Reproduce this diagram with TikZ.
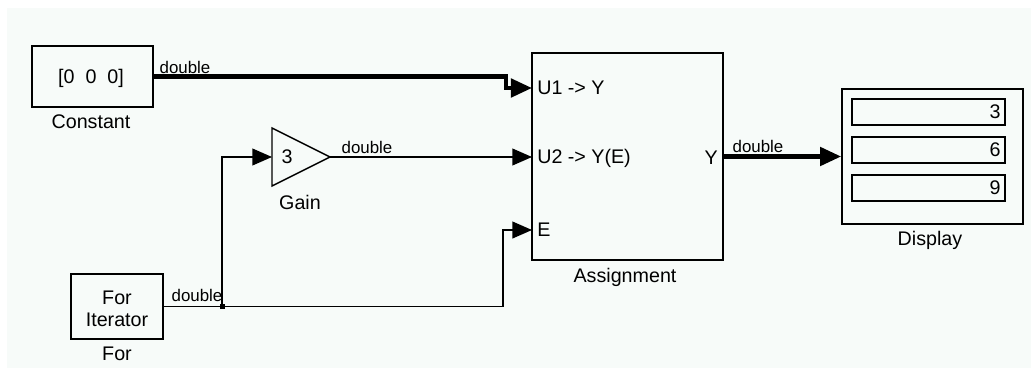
\documentclass[tikz,border=0pt]{standalone}
\usepackage{fontspec}
\setmainfont{Liberation Sans}
\usetikzlibrary{arrows.meta}
\definecolor{bgtint}{RGB}{247,251,249}
\tikzset{
  blk/.style = {draw, line width = 1.2pt, inner sep = 0pt},
  wire/.style = {line width = 1pt},
  sig/.style = {wire, -{Triangle[length = 14pt, width = 12pt]}},
  bus/.style = {line width = 3pt, -{Triangle[length = 15pt, width = 13pt]}},
  lbl/.style = {font = \fontsize{14}{16}\selectfont, inner sep = 0pt},
  dtype/.style = {font = \fontsize{12}{14}\selectfont, inner sep = 0pt}
}
\begin{document}
\begin{tikzpicture}[x = 0.025cm, y = -0.025cm]
  \useasboundingbox (0,0) rectangle (1031,368);
  \fill [bgtint] (7,8) rectangle (1031,368);
  % blocks
  \node [blk, minimum width = 3.025cm, minimum height = 1.525cm]
    (const) at (92.5,76.5) {};
  \node [lbl] (constval) at (91,78) {[0\ \ 0\ \ 0]};
  \node [lbl] (constlbl) at (91,122) {Constant};
  \node [blk, minimum width = 2.3cm, minimum height = 1.625cm]
    (forit) at (117,306.5) {};
  \node [lbl, align = center, font = \fontsize{14}{16}\selectfont]
    (fortext) at (117,309) {For\\Iterator};
  \node [lbl] (forlbl) at (117,354) {For};
  \coordinate (gin) at (272,157);
  \coordinate (gout) at (330,157);
  \draw [line width = 1pt, line join = miter] (272,128) -- (gout) -- (272,186) -- cycle;
  \node [lbl] (gainval) at (287,157) {3};
  \node [lbl] (gainlbl) at (300,202) {Gain};
  \node [blk, minimum width = 4.775cm, minimum height = 5.175cm]
    (assign) at (627.5,156.5) {};
  \node [lbl, anchor = west] (pu1) at (537,88) {U1 -> Y};
  \node [lbl, anchor = west] (pu2) at (537,158) {U2 -> Y(E)};
  \node [lbl, anchor = west] (pe) at (537,230) {E};
  \node [lbl, anchor = east] (py) at (718,158) {Y};
  \node [lbl] (assignlbl) at (625,277) {Assignment};
  \node [blk, minimum width = 4.525cm, minimum height = 3.375cm]
    (disp) at (932.5,156.5) {};
  \foreach \v/\yy in {3/112, 6/150, 9/188}
    \node [blk, minimum width = 3.825cm, minimum height = 0.65cm,
           lbl, draw, text width = 3.6cm, align = right]
      (row\v) at (928.5,\yy) {\v};
  \node [lbl] (displbl) at (930,240) {Display};
  % ports
  \coordinate (u1) at (532,88);
  \coordinate (u2) at (532,157);
  \coordinate (e) at (532,230);
  \coordinate (br) at (222,306.5);
  % connectors
  \draw [bus] (const.east) -- ++(352,0) |- (u1);
  \draw [sig] (gout) -- (u2);
  \draw [bus] (assign.east) -- (disp.west);
  \draw [wire] (forit.east) -- (br);
  \draw [sig] (br) -- ++(281,0) |- (e);
  \draw [sig] (br) |- (gin);
  \fill (br) ++(-2.5,-2.5) rectangle ++(5,5);
  % data types
  \node [dtype] (dt1) at (185,67) {double};
  \node [dtype] (dt2) at (367,147) {double};
  \node [dtype] (dt3) at (758,146) {double};
  \node [dtype] (dt4) at (197,295) {double};
\end{tikzpicture}
\end{document}
